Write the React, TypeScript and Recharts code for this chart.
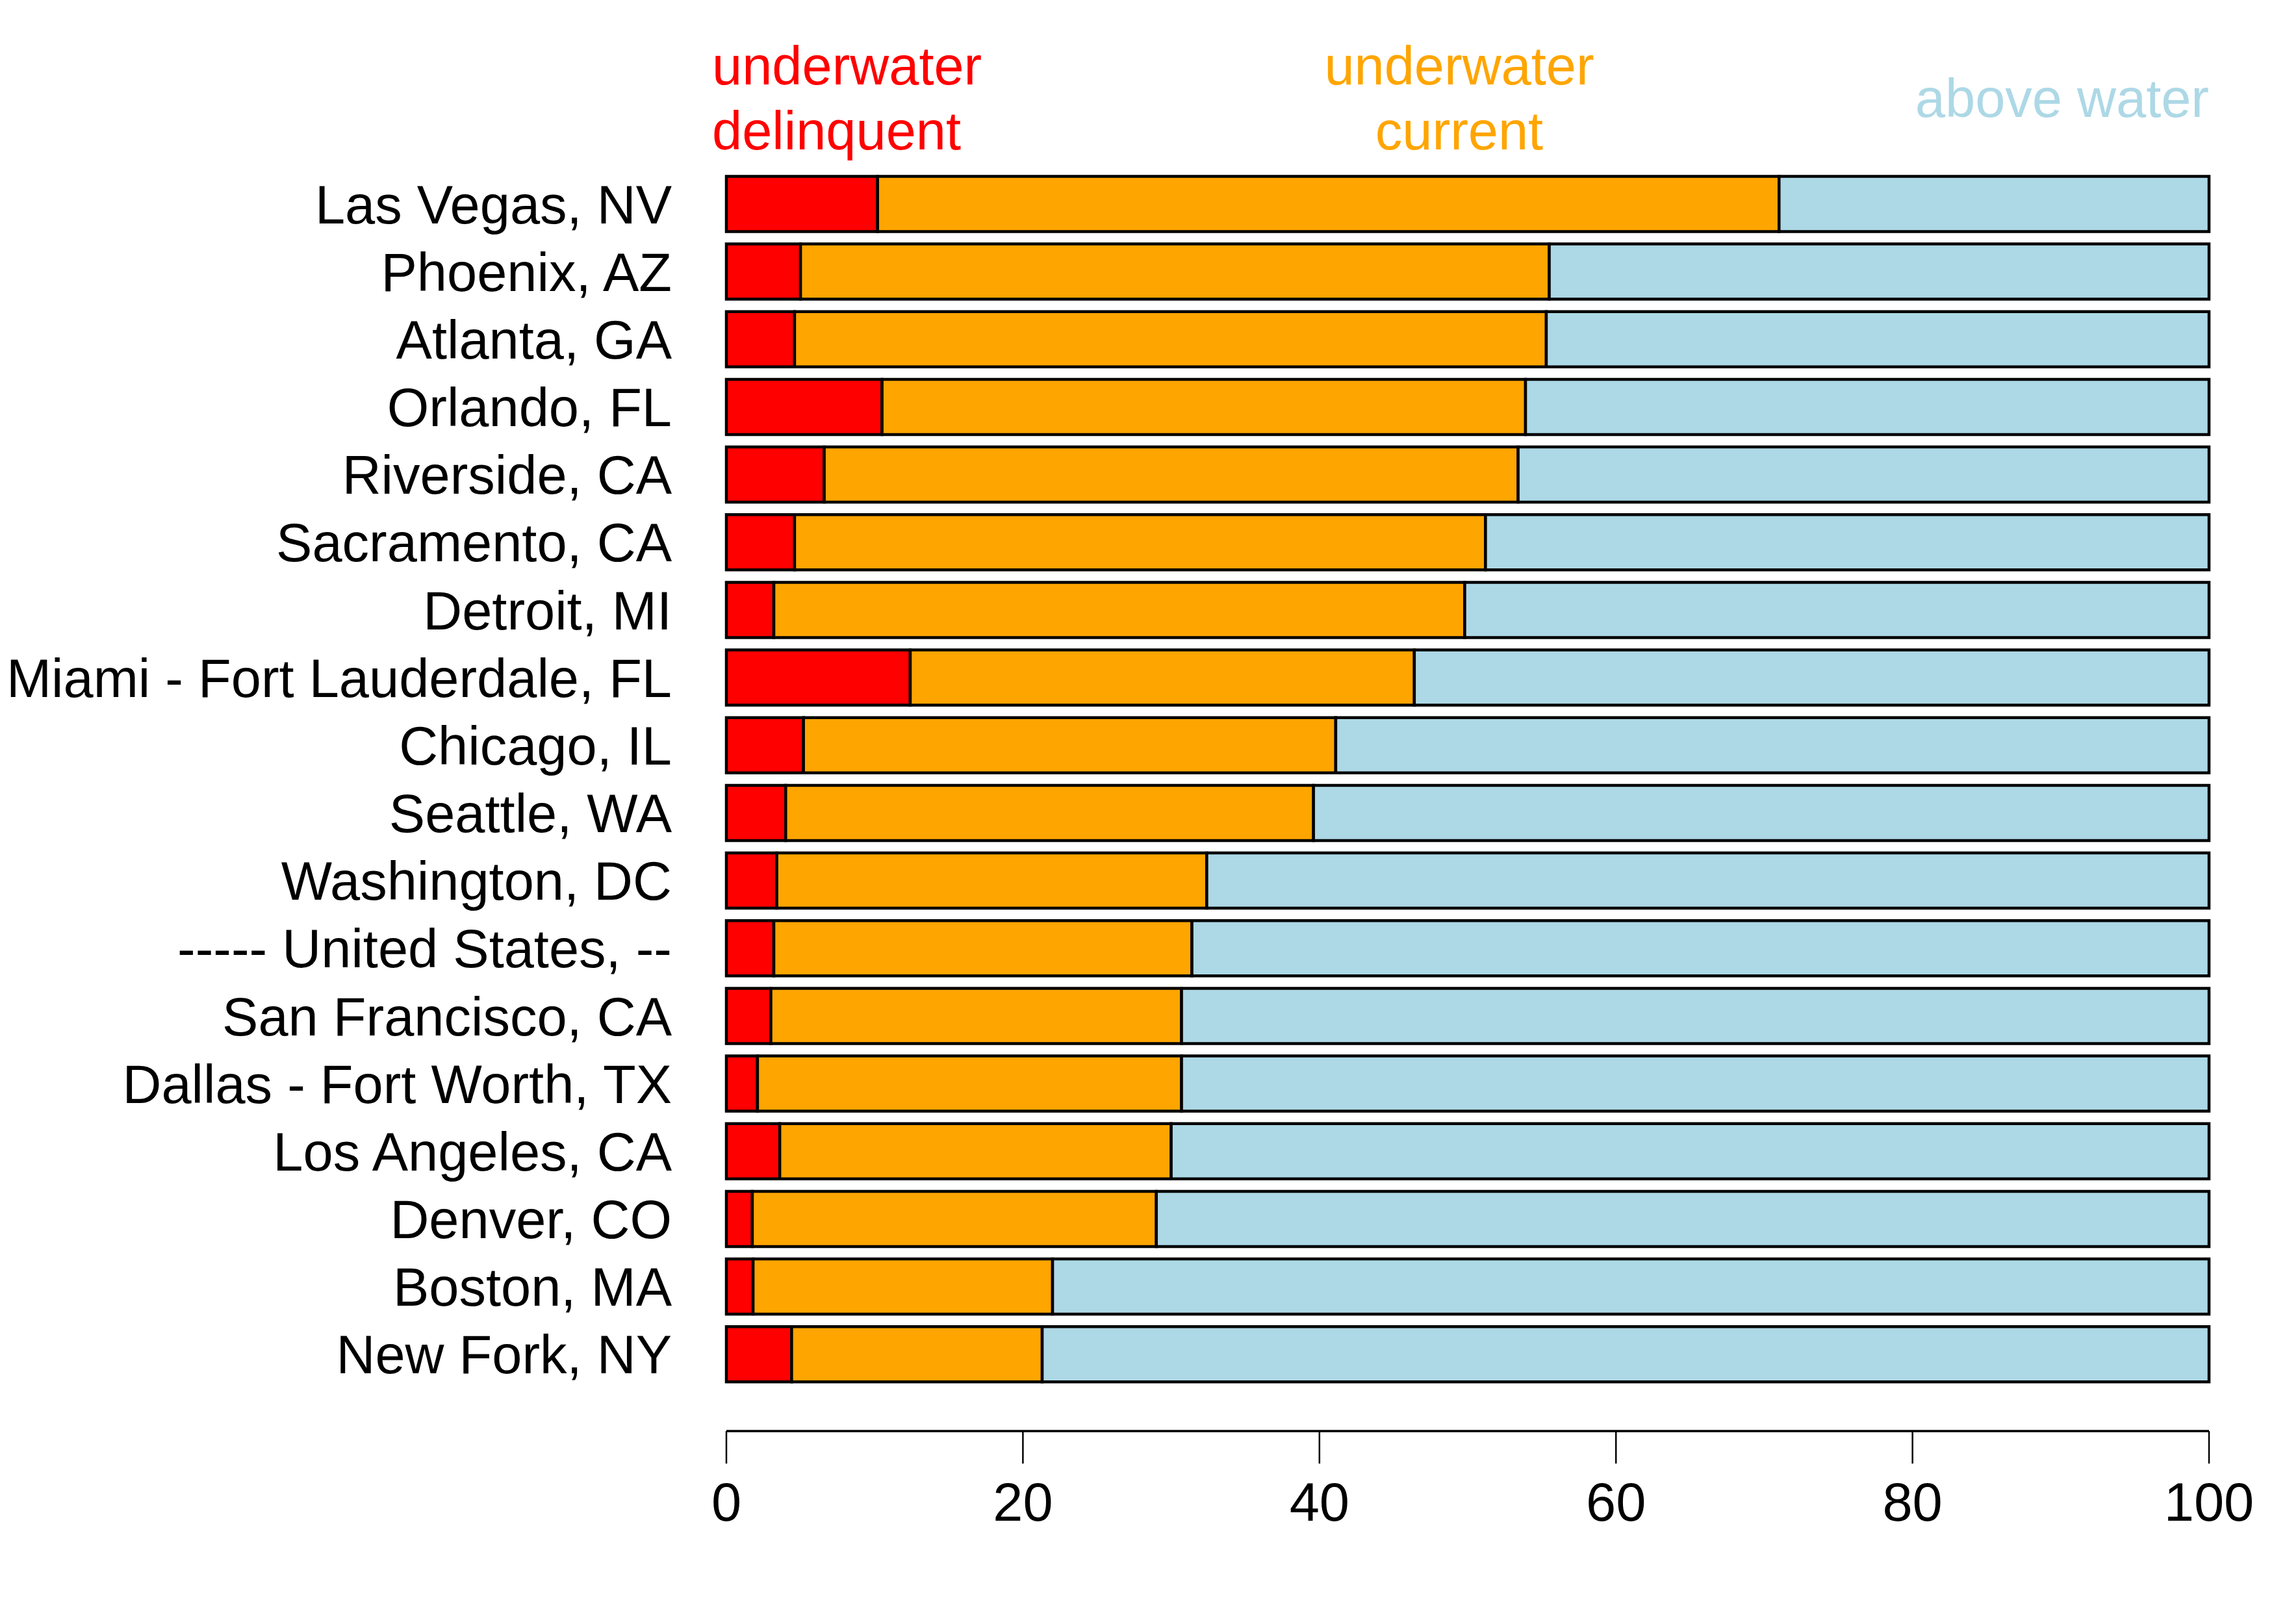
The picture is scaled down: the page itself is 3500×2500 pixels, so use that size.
import React from 'react'
import { BarChart, Bar, XAxis, YAxis } from 'recharts'

const cities = [
  'Las Vegas, NV',
  'Phoenix, AZ',
  'Atlanta, GA',
  'Orlando, FL',
  'Riverside, CA',
  'Sacramento, CA',
  'Detroit, MI',
  'Miami - Fort Lauderdale, FL',
  'Chicago, IL',
  'Seattle, WA',
  'Washington, DC',
  '----- United States, --',
  'San Francisco, CA',
  'Dallas - Fort Worth, TX',
  'Los Angeles, CA',
  'Denver, CO',
  'Boston, MA',
  'New Fork, NY',
]

// percent of mortgages
const delinquent = [10.2, 5.0, 4.6, 10.5, 6.6, 4.6, 3.2, 12.4, 5.2, 4.0, 3.4, 3.2, 3.0, 2.1, 3.6, 1.75, 1.8, 4.4]
const current = [60.8, 50.5, 50.7, 43.4, 46.8, 46.6, 46.6, 34.0, 35.9, 35.6, 29.0, 28.2, 27.7, 28.6, 26.4, 27.25, 20.2, 16.9]
const above = [29.0, 44.5, 44.7, 46.1, 46.6, 48.8, 50.2, 53.6, 58.9, 60.4, 67.6, 68.6, 69.3, 69.3, 70.0, 71.0, 78.0, 78.7]

const xTicks = [0, 20, 40, 60, 80, 100]

const RED = '#ff0000'
const ORANGE = '#ffa500'
const BLUE = '#add8e6'
const FONT = '"Liberation Sans", Arial, sans-serif'

const data = cities.map((city, i) => ({
  city,
  delinquent: delinquent[i],
  current: current[i],
  above: above[i],
}))

export default function App() {
  return (
    <div style={{ position: 'absolute', left: 0, top: 0, width: 3500, height: 2500, background: '#fff', fontFamily: FONT }}>
      <BarChart
        width={3500}
        height={2500}
        data={data}
        layout="vertical"
        margin={{ top: 262, right: 100, bottom: 147, left: 0 }}
        barCategoryGap="9%"
      >
        <XAxis
          type="number"
          domain={[0, 100]}
          ticks={xTicks}
          interval={0}
          height={150}
          tickSize={50}
          tickMargin={29}
          axisLine={{ stroke: '#000', strokeWidth: 3.5 }}
          tickLine={{ stroke: '#000', strokeWidth: 2.5 }}
          tick={{ fill: '#000', fontSize: 83, fontFamily: FONT }}
        />
        <YAxis
          type="category"
          dataKey="city"
          width={1118}
          interval={0}
          tickSize={0}
          tickMargin={84}
          axisLine={false}
          tickLine={false}
          padding={{ top: 0, bottom: 66 }}
          tick={{ fill: '#000', fontSize: 83, fontFamily: FONT }}
        />
        <Bar dataKey="delinquent" stackId="a" fill={RED} stroke="#000" strokeWidth={4.5} isAnimationActive={false} />
        <Bar dataKey="current" stackId="a" fill={ORANGE} stroke="#000" strokeWidth={4.5} isAnimationActive={false} />
        <Bar dataKey="above" stackId="a" fill={BLUE} stroke="#000" strokeWidth={4.5} isAnimationActive={false} />
      </BarChart>
      <svg width={3500} height={260} style={{ position: 'absolute', left: 0, top: 0 }}>
        <g fontFamily={FONT} fontSize={83}>
          <text x={1096} y={130} fill={RED} textAnchor="start">underwater</text>
          <text x={1096} y={230} fill={RED} textAnchor="start">delinquent</text>
          <text x={2246} y={130} fill={ORANGE} textAnchor="middle">underwater</text>
          <text x={2246} y={230} fill={ORANGE} textAnchor="middle">current</text>
          <text x={3400} y={180} fill={BLUE} textAnchor="end">above water</text>
        </g>
      </svg>
    </div>
  )
}
